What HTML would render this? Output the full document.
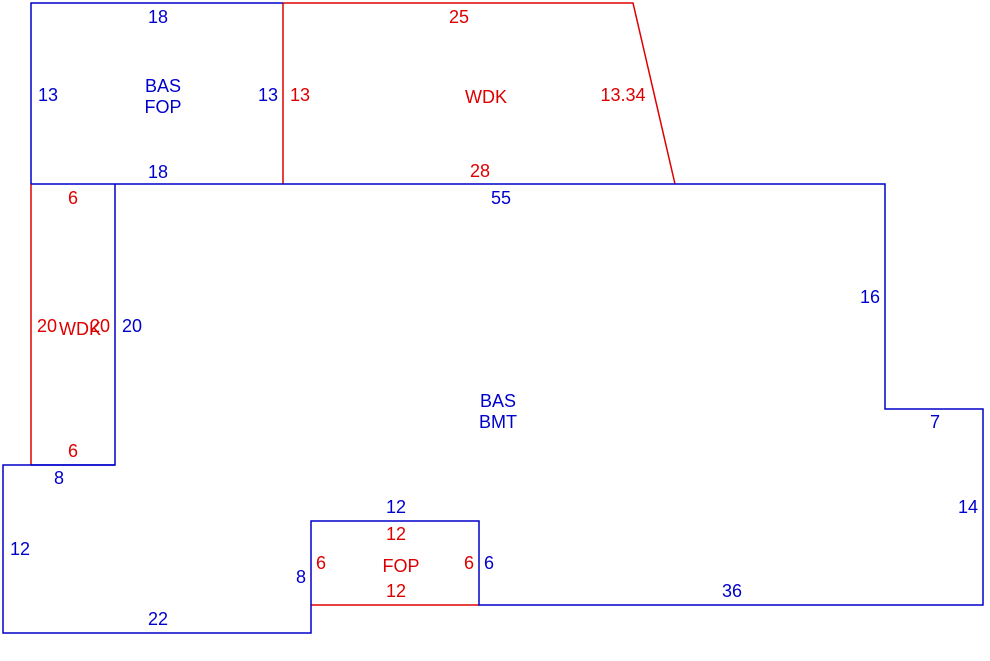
<!DOCTYPE html>
<html><head><style>
html,body{margin:0;padding:0;background:#fff;}
svg{display:block;}
text{font-family:"Liberation Sans",Arial,sans-serif;font-size:18px;text-anchor:middle;}
.b{fill:#0000cc;} .r{fill:#dd0000;}
</style></head><body>
<svg width="990" height="661" viewBox="0 0 990 661">
<g fill="none" stroke-width="1.5">
<polyline stroke="#dd0000" points="283,3 633,3 675,184"/>
<line stroke="#dd0000" x1="283" y1="3" x2="283" y2="184"/>
<line stroke="#dd0000" x1="31" y1="184" x2="31" y2="465"/>
<line stroke="#dd0000" x1="311" y1="605" x2="479" y2="605"/>
<polyline stroke="#0000cc" points="31,184 31,3 283,3"/>
<polyline stroke="#0000cc" points="31,184 885,184 885,409 983,409 983,605 479,605 479,521 311,521 311,633 3,633 3,465 115,465 115,184"/>
<line stroke="#0000cc" x1="31" y1="465" x2="115" y2="465"/>
</g>
<text class="b" x="158" y="23">18</text>
<text class="b" x="48" y="101">13</text>
<text class="b" x="163" y="92">BAS</text>
<text class="b" x="163" y="113">FOP</text>
<text class="b" x="268" y="101">13</text>
<text class="b" x="158" y="178">18</text>
<text class="r" x="459" y="23">25</text>
<text class="r" x="300" y="101">13</text>
<text class="r" x="486" y="103">WDK</text>
<text class="r" x="623" y="101">13.34</text>
<text class="r" x="480" y="177">28</text>
<text class="b" x="501" y="204">55</text>
<text class="r" x="73" y="204">6</text>
<text class="r" x="47" y="332">20</text>
<text class="r" x="80" y="335">WDK</text>
<text class="r" x="100" y="332">20</text>
<text class="b" x="132" y="332">20</text>
<text class="r" x="73" y="457">6</text>
<text class="b" x="59" y="484">8</text>
<text class="b" x="870" y="303">16</text>
<text class="b" x="498" y="407">BAS</text>
<text class="b" x="498" y="428">BMT</text>
<text class="b" x="935" y="428">7</text>
<text class="b" x="968" y="513">14</text>
<text class="b" x="396" y="513">12</text>
<text class="r" x="396" y="540">12</text>
<text class="b" x="20" y="555">12</text>
<text class="r" x="321" y="569">6</text>
<text class="r" x="401" y="572">FOP</text>
<text class="r" x="469" y="569">6</text>
<text class="b" x="489" y="569">6</text>
<text class="b" x="301" y="583">8</text>
<text class="r" x="396" y="597">12</text>
<text class="b" x="732" y="597">36</text>
<text class="b" x="158" y="625">22</text>
</svg>
</body></html>
